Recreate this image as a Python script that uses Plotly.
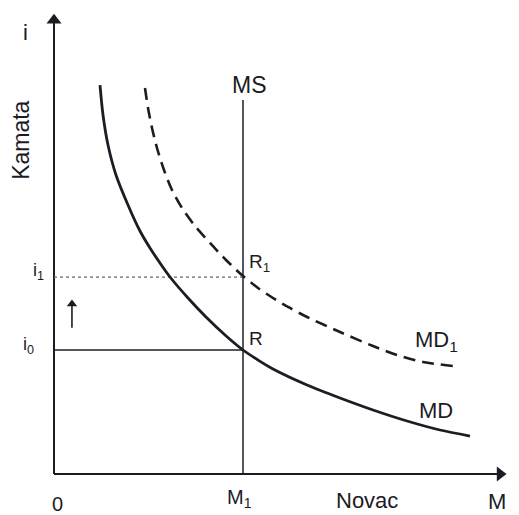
import plotly.graph_objects as go

# ---- data (money quantity M, interest rate i) ----
md_x = [2.434, 2.593, 2.857, 3.280, 3.915, 4.550, 5.079, 5.608, 6.138, 7.090, 8.042, 9.048, 10.0,
        10.794, 11.587, 13.386, 15.132, 16.878, 18.677, 20.423, 22.011]
md_y = [15.685, 14.476, 13.266, 12.056, 10.847, 9.798, 9.113, 8.508, 7.944, 7.097, 6.331, 5.605, 5.0,
        4.597, 4.234, 3.589, 3.065, 2.581, 2.137, 1.774, 1.532]

md1_x = [4.815, 4.974, 5.185, 5.450, 5.820, 6.243, 6.772, 7.460, 8.254, 9.101, 10.0, 10.794, 11.587,
         12.487, 13.386, 15.132, 16.878, 18.148, 19.524, 21.111]
md1_y = [15.565, 14.758, 13.952, 13.145, 12.258, 11.452, 10.726, 10.0, 9.315, 8.629, 7.984, 7.5, 7.097,
         6.694, 6.331, 5.726, 5.161, 4.798, 4.516, 4.355]

m1 = 10.0          # money supply
ms_top = 15.08     # top of MS line
i0 = 5.0           # initial interest rate
i1 = 7.94          # new interest rate
x_axis_end = 23.6
y_axis_end = 18.3
rise_x = 0.95
rise_from, rise_to = 5.9, 6.85

ink = "#1c1c24"
font_family = "Liberation Sans, Arial, sans-serif"

fig = go.Figure()

# axes
fig.add_trace(go.Scatter(x=[0, 0], y=[0, y_axis_end], mode="lines",
                         line=dict(color=ink, width=2), hoverinfo="skip"))
fig.add_trace(go.Scatter(x=[0, x_axis_end], y=[0, 0], mode="lines",
                         line=dict(color=ink, width=2), hoverinfo="skip"))
fig.add_trace(go.Scatter(x=[0], y=[y_axis_end], mode="markers",
                         marker=dict(symbol="triangle-up", size=13, color=ink), hoverinfo="skip"))
fig.add_trace(go.Scatter(x=[x_axis_end], y=[0], mode="markers",
                         marker=dict(symbol="triangle-right", size=13, color=ink), hoverinfo="skip"))

# MS vertical line
fig.add_trace(go.Scatter(x=[m1, m1], y=[0, ms_top], mode="lines",
                         line=dict(color=ink, width=1.5), hoverinfo="skip"))
# i0 horizontal
fig.add_trace(go.Scatter(x=[0, m1], y=[i0, i0], mode="lines",
                         line=dict(color=ink, width=1.5), hoverinfo="skip"))
# i1 dotted
fig.add_trace(go.Scatter(x=[0, m1], y=[i1, i1], mode="lines",
                         line=dict(color="#666", width=1.4, dash="dot"), hoverinfo="skip"))
# MD solid
fig.add_trace(go.Scatter(x=md_x, y=md_y, mode="lines",
                         line=dict(color=ink, width=2.8, shape="spline", smoothing=0.8),
                         hoverinfo="skip"))
# MD1 dashed
fig.add_trace(go.Scatter(x=md1_x, y=md1_y, mode="lines",
                         line=dict(color=ink, width=2.6, shape="spline", smoothing=0.8,
                                   dash="12px,7px"),
                         hoverinfo="skip"))
# small rising arrow
fig.add_trace(go.Scatter(x=[rise_x, rise_x], y=[rise_from, rise_to], mode="lines",
                         line=dict(color=ink, width=1.6), hoverinfo="skip"))
fig.add_trace(go.Scatter(x=[rise_x], y=[rise_to], mode="markers",
                         marker=dict(symbol="triangle-up", size=9, color=ink), hoverinfo="skip"))

annotations = []


def label(text, x, y, size, xanchor="center", angle=0):
    annotations.append(dict(x=x, y=y, xref="x", yref="y", text=text, showarrow=False,
                            xanchor=xanchor, yanchor="middle", textangle=angle,
                            font=dict(family=font_family, size=size, color=ink)))


label("i", -1.53, 17.82, 22)
label("Kamata", -1.75, 13.47, 23, angle=-90)
label("MS", 10.32, 15.69, 23)
label("R<sub>1</sub>", 10.2, 8.5, 19, xanchor="left")
label("R", 10.2, 5.48, 19, xanchor="left")
label("MD<sub>1</sub>", 19.0, 5.36, 22, xanchor="left")
label("MD", 19.2, 2.58, 22, xanchor="left")
label("i<sub>1</sub>", -1.2, 8.15, 18, xanchor="left")
label("i<sub>0</sub>", -1.75, 5.2, 18, xanchor="left")
label("0", 0.21, -1.2, 20)
label("M<sub>1</sub>", 9.84, -1.0, 20)
label("Novac", 16.56, -1.05, 22)
label("M", 23.44, -1.09, 22)

fig.update_layout(
    width=519, height=515,
    margin=dict(l=0, r=0, t=0, b=0),
    paper_bgcolor="white", plot_bgcolor="white",
    showlegend=False,
    annotations=annotations,
    xaxis=dict(range=[-2.857, 24.603], visible=False, fixedrange=True),
    yaxis=dict(range=[-1.653, 19.113], visible=False, fixedrange=True),
)

fig.write_html("out.html", config={"displayModeBar": False})

# remove the default page margin so the figure fills the window exactly
with open("out.html", "r", encoding="utf-8") as f:
    html = f.read()
html = html.replace("<body>", '<body style="margin:0;padding:0;overflow:hidden">', 1)
with open("out.html", "w", encoding="utf-8") as f:
    f.write(html)
